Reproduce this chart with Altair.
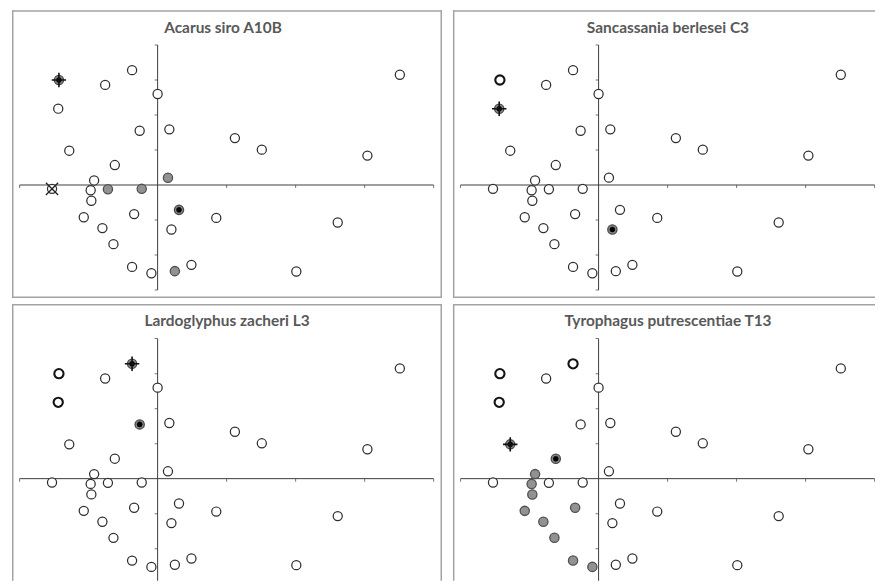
import altair as alt
import pandas as pd

# ---- data (units = axis tick spacing) ----
X = [-1.43, -0.37, -0.76, 0.00, 3.51, -1.44, -0.26, 0.17, 1.12, 1.51, 3.04,
     -1.28, -0.62, -0.92, 0.15, -1.53, -0.97, -0.72, -0.23, -0.96, 0.31,
     -1.07, -0.34, 0.85, 2.61, -0.80, 0.20, -0.64, -0.37, -0.09, 0.25, 0.49, 2.01]
Y = [3.00, 3.28, 2.86, 2.60, 3.15, 2.18, 1.55, 1.59, 1.34, 1.01, 0.84,
     0.98, 0.57, 0.13, 0.21, -0.11, -0.15, -0.12, -0.11, -0.45, -0.71,
     -0.92, -0.83, -0.94, -1.07, -1.23, -1.27, -1.69, -2.34, -2.52, -2.46, -2.28, -2.47]

TITLES = ["Acarus siro A10B", "Sancassania berlesei C3",
          "Lardoglyphus zacheri L3", "Tyrophagus putrescentiae T13"]

# o=open, b=bold open, g=grey, d=black centre, c=black centre with cross, x=crossed-out
CAT_A = ["c", "o", "o", "o", "o", "o", "o", "o", "o", "o", "o",
         "o", "o", "o", "g", "x", "o", "g", "g", "o", "d",
         "o", "o", "o", "o", "o", "o", "o", "o", "o", "g", "o", "o"]
CAT_S = ["b", "o", "o", "o", "o", "c", "o", "o", "o", "o", "o",
         "o", "o", "o", "o", "o", "o", "o", "o", "o", "o",
         "o", "o", "o", "o", "o", "d", "o", "o", "o", "o", "o", "o"]
CAT_L = ["b", "c", "o", "o", "o", "b", "d", "o", "o", "o", "o",
         "o", "o", "o", "o", "o", "o", "o", "o", "o", "o",
         "o", "o", "o", "o", "o", "o", "o", "o", "o", "o", "o", "o"]
CAT_T = ["b", "b", "o", "o", "o", "b", "o", "o", "o", "o", "o",
         "c", "d", "g", "o", "o", "g", "o", "o", "g", "o",
         "g", "g", "o", "o", "g", "o", "g", "g", "g", "o", "o", "o"]

AXIS_X = [-2, 4]
AXIS_Y = [-3, 4]
XTICKS = [-2, -1, 1, 2, 3, 4]
YTICKS = [-3, -2, -1, 1, 2, 3, 4]

# ---- layout constants ----
OX, OY = 146.3, 175.5      # origin position inside each panel (px)
UX, UY = 69.33, 35.17      # px per unit
BORDER = "#a3a3a3"
AXC = "#3c3c3c"

one = pd.DataFrame({"k": [0]})


def panel(title, cats, w, h, edges, tx):
    xsc = alt.Scale(domain=[-OX / UX, (w - OX) / UX], nice=False, zero=False)
    ysc = alt.Scale(domain=[-(h - OY) / UY, OY / UY], nice=False, zero=False)
    layers = []
    # borders
    for e in edges:
        if e == "left":
            enc = dict(x=alt.value(0.75), y=alt.value(0), y2=alt.value(h))
        elif e == "right":
            enc = dict(x=alt.value(w - 0.75), y=alt.value(0), y2=alt.value(h))
        elif e == "top":
            enc = dict(y=alt.value(0.75), x=alt.value(0), x2=alt.value(w))
        else:
            enc = dict(y=alt.value(h - 0.75), x=alt.value(0), x2=alt.value(w))
        layers.append(alt.Chart(one).mark_rule(color=BORDER, strokeWidth=1.5).encode(**enc))

    # axis lines
    ah = pd.DataFrame({"x": [AXIS_X[0]], "x2": [AXIS_X[1]], "y": [0]})
    av = pd.DataFrame({"x": [0], "y": [AXIS_Y[0]], "y2": [AXIS_Y[1]]})
    layers.append(alt.Chart(ah).mark_rule(color=AXC, strokeWidth=1, clip=True).encode(
        x=alt.X("x:Q", scale=xsc, axis=None), x2="x2:Q",
        y=alt.Y("y:Q", scale=ysc, axis=None)))
    layers.append(alt.Chart(av).mark_rule(color=AXC, strokeWidth=1, clip=True).encode(
        x=alt.X("x:Q", scale=xsc, axis=None),
        y=alt.Y("y:Q", scale=ysc, axis=None), y2="y2:Q"))
    xt = pd.DataFrame({"x": XTICKS, "y": [0] * len(XTICKS)})
    yt = pd.DataFrame({"x": [0] * len(YTICKS), "y": YTICKS})
    layers.append(alt.Chart(xt).mark_tick(orient="vertical", size=3, thickness=1,
                                          yOffset=1.5, color=AXC, clip=True).encode(
        x=alt.X("x:Q", scale=xsc, axis=None), y=alt.Y("y:Q", scale=ysc, axis=None)))
    layers.append(alt.Chart(yt).mark_tick(orient="horizontal", size=3, thickness=1,
                                          xOffset=-1.5, color=AXC, clip=True).encode(
        x=alt.X("x:Q", scale=xsc, axis=None), y=alt.Y("y:Q", scale=ysc, axis=None)))

    df = pd.DataFrame({"x": X, "y": Y, "c": cats})

    def enc():
        return dict(x=alt.X("x:Q", scale=xsc, axis=None),
                    y=alt.Y("y:Q", scale=ysc, axis=None))

    def sub(codes):
        return df[df["c"].isin(codes)]

    styles = {
        "o": dict(fill="white", stroke="#2e2e2e", strokeWidth=1.25, size=84),
        "x": dict(fill="white", stroke="#2e2e2e", strokeWidth=1.25, size=84),
        "b": dict(fill="white", stroke="#141414", strokeWidth=2.1, size=86),
        "g": dict(fill="#929292", stroke="#505050", strokeWidth=1.3, size=86),
        "d": dict(fill="#8a8a8a", stroke="#4a4a4a", strokeWidth=1.3, size=86),
        "c": dict(fill="#8a8a8a", stroke="#4a4a4a", strokeWidth=1.3, size=86),
    }
    for code, st in styles.items():
        d = sub([code])
        if len(d) == 0:
            continue
        layers.append(alt.Chart(d).mark_point(shape="circle", filled=True, opacity=1,
                                              **st).encode(**enc()))
    d = sub(["d", "c"])
    if len(d):
        layers.append(alt.Chart(d).mark_point(shape="circle", filled=True, opacity=1,
                                              fill="black", stroke="black", strokeWidth=0.5,
                                              size=26).encode(**enc()))
    d = sub(["c"])
    if len(d):
        layers.append(alt.Chart(d).mark_point(shape="M-1,0H1M0,-1V1", filled=False,
                                              opacity=1, color="#111111", strokeWidth=1.6,
                                              size=210).encode(**enc()))
    d = sub(["x"])
    if len(d):
        layers.append(alt.Chart(d).mark_point(shape="M-1,-1L1,1M-1,1L1,-1", filled=False,
                                              opacity=1, color="#222222", strokeWidth=1.3,
                                              size=150).encode(**enc()))

    layers.append(alt.Chart(one).mark_text(text=title, font="Lato", fontWeight="bold",
                                           fontSize=15.5, color="#595959", align="center",
                                           baseline="middle").encode(
        x=alt.value(tx), y=alt.value(17.5)))
    return alt.layer(*layers).properties(width=w, height=h)


p1 = panel(TITLES[0], CAT_A, 432, 289, ["left", "top", "right", "bottom"], 212)
p2 = panel(TITLES[1], CAT_S, 424, 289, ["left", "top", "bottom"], 216)
p3 = panel(TITLES[2], CAT_L, 432, 278, ["left", "top", "right"], 216)
p4 = panel(TITLES[3], CAT_T, 424, 278, ["left", "top"], 216)

chart = alt.vconcat(
    alt.hconcat(p1, p2, spacing=9),
    alt.hconcat(p3, p4, spacing=9),
    spacing=4,
).properties(
    padding={"left": 3, "top": 0, "right": 0, "bottom": 0},
    background="white",
).configure_view(stroke=None)

chart.save("out.html", embed_options={"renderer": "svg", "actions": False})
